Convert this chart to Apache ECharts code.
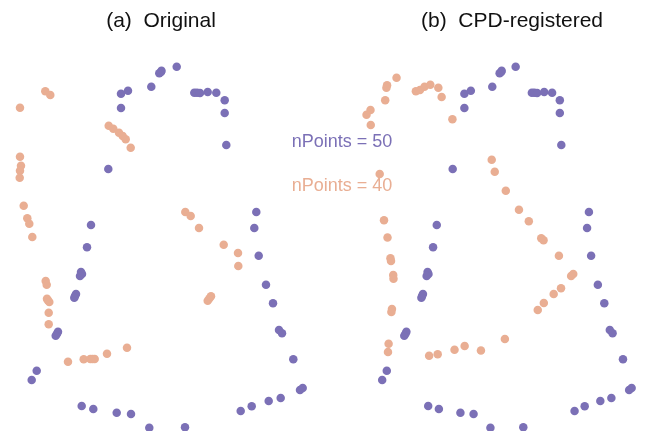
<!DOCTYPE html>
<html>
<head>
<meta charset="utf-8">
<script src="https://cdn.jsdelivr.net/npm/echarts@6/dist/echarts.min.js"></script>
<style>
  html, body { margin: 0; padding: 0; background: #fff; }
  #chart { width: 654px; height: 431px; }
</style>
</head>
<body>
<div id="chart"></div>
<script>
// Panel titles
const panelTitles = ['(a)  Original', '(b)  CPD-registered'];
const labelTarget = 'nPoints = 50';
const labelSource = 'nPoints = 40';

// Target point set (x, y), shared by both panels
const targetPoints = [
  [159.3, 73.3], [161.5, 70.7], [161, 72], [176.7, 66.7], [151.3, 86.7],
  [121, 93.7], [128, 90.7], [121, 108], [108.3, 169], [91, 225],
  [194.3, 92.7], [197, 92.8], [200, 93], [207.7, 92], [216.3, 92.7],
  [224.7, 100.3], [224.7, 113], [226.3, 145], [256.3, 212], [254.3, 228],
  [87, 247.3], [81, 272], [82, 274], [80, 276], [76, 294], [75, 296], [74.3, 297.7],
  [58, 331.7], [57, 333.7], [55.7, 335.7], [36.7, 370.7], [31.7, 380],
  [81.7, 406], [93.3, 409], [116.7, 412.7], [131, 414], [149.3, 427.7],
  [258.7, 255.7], [266, 284.7], [273, 303.3], [279, 330], [282, 333.3],
  [293.3, 359.3], [300, 390], [302.7, 388], [280.7, 398], [268.7, 401],
  [251.7, 406.3], [240.7, 411], [185, 427.3]
];

// Source point set before registration
const sourceOriginal = [
  [45.3, 91.3], [50.3, 95], [20, 107.7], [108.7, 125.7], [113.3, 128.7],
  [119, 132.7], [122.7, 136], [125.7, 139.3], [130.7, 147.7], [20, 156.7],
  [21, 165.7], [20, 170.7], [19.7, 177.7], [23.7, 205.7], [27.3, 218.3],
  [29.3, 223.7], [32.3, 237], [185.3, 212], [190.7, 216], [199, 228],
  [45.7, 281], [46.7, 284.7], [47, 298.7], [47.8, 300.3], [49.3, 302],
  [48.7, 312.7], [48.7, 324.3], [68, 361.7], [83.7, 359.3], [90.3, 359],
  [92.5, 359], [94.7, 359], [107, 353.7], [127, 347.7], [223.7, 244.7],
  [238, 253], [238.3, 266], [207.7, 300.7], [209.3, 298.5], [211, 296.3]
];

// Source point set after CPD registration
const sourceRegistered = [
  [47.3, 77.7], [37, 85.3], [36.3, 87.7], [35, 100.3], [19, 110],
  [14.7, 114.7], [19.3, 125], [68.3, 91.3], [72.7, 90], [77.7, 86.7],
  [84, 84.7], [92.7, 87.7], [96.3, 97], [108, 119.3], [29, 174],
  [33.7, 220.3], [37.5, 237.5], [150.7, 159.7], [154, 171.7], [166, 190.7],
  [180.3, 209.7], [191, 221.3], [204.5, 238.3], [207, 240.3], [40.7, 258.3],
  [41.3, 261], [43.7, 275], [44, 278.7], [42.3, 309], [41.7, 312],
  [38.7, 343.7], [38, 352], [82.7, 355.7], [92, 354.3], [110.3, 349.7],
  [121.3, 346], [139, 350.5], [223.7, 255.7], [237, 276], [239.3, 274],
  [226, 288.3], [218, 294], [207.3, 303], [200.7, 310], [165, 339]
];

const purple = '#7b70b6';
const salmon = '#e9ae93';
const font = 'Liberation Sans, Arial, Helvetica, sans-serif';

const chart = echarts.init(document.getElementById('chart'), null, { renderer: 'canvas' });

function xAxis(i) {
  return { gridIndex: i, type: 'value', min: 0, max: 327, show: false };
}
function yAxis(i) {
  return { gridIndex: i, type: 'value', min: 0, max: 431, inverse: true, show: false };
}
function scatter(i, data, color, z) {
  return {
    type: 'scatter', xAxisIndex: i, yAxisIndex: i, data: data,
    symbolSize: 8.5, itemStyle: { color: color, opacity: 1 }, z: z,
    silent: true, animation: false
  };
}

chart.setOption({
  backgroundColor: '#ffffff',
  animation: false,
  title: [
    { text: panelTitles[0], left: 156, top: 6, textAlign: 'center',
      textStyle: { fontFamily: font, fontSize: 21, fontWeight: 'normal', color: '#111' } },
    { text: panelTitles[1], left: 507, top: 6, textAlign: 'center',
      textStyle: { fontFamily: font, fontSize: 21, fontWeight: 'normal', color: '#111' } },
    { text: labelTarget, left: 337, top: 128, textAlign: 'center',
      textStyle: { fontFamily: font, fontSize: 18, fontWeight: 'normal', color: purple } },
    { text: labelSource, left: 337, top: 172, textAlign: 'center',
      textStyle: { fontFamily: font, fontSize: 18, fontWeight: 'normal', color: salmon } }
  ],
  grid: [
    { left: 0, top: 0, width: 327, height: 431 },
    { left: 353, top: 0, width: 327, height: 431 }
  ],
  xAxis: [xAxis(0), xAxis(1)],
  yAxis: [yAxis(0), yAxis(1)],
  series: [
    scatter(0, targetPoints, purple, 2),
    scatter(0, sourceOriginal, salmon, 3),
    scatter(1, targetPoints, purple, 2),
    scatter(1, sourceRegistered, salmon, 3)
  ]
});
</script>
</body>
</html>
